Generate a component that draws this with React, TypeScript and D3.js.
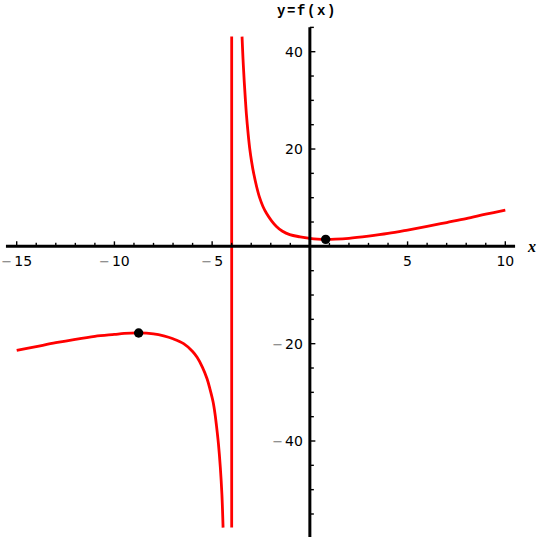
import * as d3 from "d3";
import { useEffect, useRef } from "react";

// readings of the curve, left of the pole
const leftBranch: [number, number][] = [
  [-15, -21.4], [-14, -20.6], [-13, -19.8], [-12, -19.1], [-11, -18.5],
  [-10, -18.1], [-9.5, -17.9], [-8.76, -17.8], [-8, -18.0], [-7.48, -18.4],
  [-7, -19.0], [-6.46, -20.0], [-6, -21.6], [-5.77, -22.8], [-5.5, -24.8],
  [-5.26, -27.2], [-5.1, -29.5], [-4.95, -32.0], [-4.85, -34.5], [-4.78, -36.8],
  [-4.68, -40.5], [-4.58, -45.5], [-4.5, -51.0], [-4.44, -57.8],
];

// readings of the curve, right of the pole
const rightBranch: [number, number][] = [
  [-3.47, 43.1], [-3.42, 38.5], [-3.36, 34.0], [-3.3, 30.2], [-3.25, 27.3],
  [-3.16, 23.2], [-3.08, 20.2], [-2.98, 17.4], [-2.87, 14.9], [-2.72, 12.2],
  [-2.57, 10.0], [-2.4, 8.2], [-2.22, 6.8], [-1.95, 5.2], [-1.71, 4.1],
  [-1.4, 3.1], [-1.03, 2.4], [-0.5, 1.95], [0, 1.65], [0.4, 1.5],
  [0.81, 1.44], [1.3, 1.48], [2, 1.65], [3, 2.1], [4, 2.65], [5, 3.35],
  [6, 4.1], [7, 4.9], [8, 5.7], [9, 6.6], [10, 7.45],
];

// the vertical joining line Mathematica draws at the pole
const poleLine: [number, number][] = [[-4, -57.8], [-4, 43.1]];

// local max and min
const extrema: [number, number][] = [[-8.76, -17.8], [0.81, 1.44]];

const xTicks = [-15, -10, -5, 5, 10];
const yTicks = [-40, -20, 20, 40];
const xMinor = d3.range(-15, 11, 1);
const yMinor = d3.range(-55, 50, 5);

const fmt = (v: number) => String(Math.abs(v));

export default function App() {
  const ref = useRef<SVGSVGElement | null>(null);

  useEffect(() => {
    if (!ref.current) return;
    const svg = d3.select(ref.current);
    svg.selectAll("*").remove();

    const x = d3.scaleLinear().domain([-15, 10]).range([16.7, 505.3]);
    const y = d3.scaleLinear().domain([-40, 40]).range([441, 51.7]);

    const x0 = x(0);
    const y0 = y(0);

    const line = d3
      .line<[number, number]>()
      .x((d) => x(d[0]))
      .y((d) => y(d[1]))
      .curve(d3.curveCatmullRom.alpha(0.5));

    const straight = d3
      .line<[number, number]>()
      .x((d) => x(d[0]))
      .y((d) => y(d[1]));

    // curve
    [leftBranch, rightBranch].forEach((b) => {
      svg
        .append("path")
        .attr("d", line(b)!)
        .attr("fill", "none")
        .attr("stroke", "#ff0000")
        .attr("stroke-width", 2.8);
    });
    svg
      .append("path")
      .attr("d", straight(poleLine)!)
      .attr("fill", "none")
      .attr("stroke", "#ff0000")
      .attr("stroke-width", 2.8);

    // x axis
    svg
      .append("line")
      .attr("x1", x(-15.55))
      .attr("x2", x(10.5))
      .attr("y1", y0)
      .attr("y2", y0)
      .attr("stroke", "black")
      .attr("stroke-width", 3);

    svg
      .append("g")
      .selectAll("line")
      .data(xMinor.filter((d) => d !== 0))
      .enter()
      .append("line")
      .attr("x1", (d) => x(d))
      .attr("x2", (d) => x(d))
      .attr("y1", y0)
      .attr("y2", (d) => (xTicks.includes(d) ? y0 - 5 : y0 - 3.5))
      .attr("stroke", "black")
      .attr("stroke-width", 1.4);

    // y axis
    svg
      .append("line")
      .attr("x1", x0)
      .attr("x2", x0)
      .attr("y1", y(45))
      .attr("y2", 537)
      .attr("stroke", "black")
      .attr("stroke-width", 3);

    svg
      .append("g")
      .selectAll("line")
      .data(yMinor.filter((d) => d !== 0))
      .enter()
      .append("line")
      .attr("x1", x0)
      .attr("x2", (d) => (yTicks.includes(d) ? x0 + 5.5 : x0 + 4))
      .attr("y1", (d) => y(d))
      .attr("y2", (d) => y(d))
      .attr("stroke", "black")
      .attr("stroke-width", 1.4);

    const font = "'DejaVu Sans', sans-serif";

    // x tick labels
    const xl = svg
      .append("g")
      .selectAll("text")
      .data(xTicks)
      .enter()
      .append("text")
      .attr("x", (d) => x(d))
      .attr("y", 266)
      .attr("text-anchor", "middle")
      .attr("font-family", font)
      .attr("font-size", 14)
      .attr("fill", "black");
    xl.filter((d) => d < 0)
      .append("tspan")
      .attr("fill", "#777")
      .attr("font-size", 13)
      .text("\u2212");
    xl.append("tspan")
      .attr("dx", (d) => (d < 0 ? 2 : 0))
      .text((d) => fmt(d));

    // y tick labels
    const yl = svg
      .append("g")
      .selectAll("text")
      .data(yTicks)
      .enter()
      .append("text")
      .attr("x", x0 - 7)
      .attr("y", (d) => y(d) + 5)
      .attr("text-anchor", "end")
      .attr("font-family", font)
      .attr("font-size", 14)
      .attr("fill", "black");
    yl.filter((d) => d < 0)
      .append("tspan")
      .attr("fill", "#777")
      .attr("font-size", 13)
      .text("\u2212");
    yl.append("tspan")
      .attr("dx", (d) => (d < 0 ? 2 : 0))
      .text((d) => fmt(d));

    // axis labels
    svg
      .append("text")
      .attr("x", 277)
      .attr("y", 15)
      .attr("font-family", "'Liberation Mono', monospace")
      .attr("font-weight", "bold")
      .attr("font-size", 14)
      .attr("letter-spacing", 1.6)
      .text("y=f(x)");

    svg
      .append("text")
      .attr("x", 528)
      .attr("y", 252)
      .attr("font-family", "'Liberation Serif', serif")
      .attr("font-style", "italic")
      .attr("font-weight", "bold")
      .attr("font-size", 16)
      .text("x");

    // extrema
    svg
      .append("g")
      .selectAll("circle")
      .data(extrema)
      .enter()
      .append("circle")
      .attr("cx", (d) => x(d[0]))
      .attr("cy", (d) => y(d[1]))
      .attr("r", 4.7)
      .attr("fill", "black");
  }, []);

  return (
    <svg
      ref={ref}
      width={540}
      height={537}
      style={{ position: "absolute", left: 0, top: 0, background: "white" }}
    />
  );
}
